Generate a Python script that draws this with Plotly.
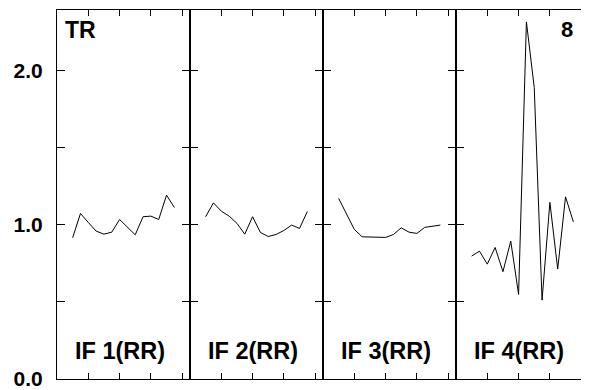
import plotly.graph_objects as go

x_idx = list(range(2, 16))
panel_labels = ["IF 1(RR)", "IF 2(RR)", "IF 3(RR)", "IF 4(RR)"]
if1 = [0.915, 1.072, 1.014, 0.958, 0.938, 0.951, 1.033, 0.986, 0.934, 1.051, 1.055, 1.033, 1.191, 1.111]
if2 = [1.051, 1.141, 1.087, 1.055, 1.008, 0.938, 1.051, 0.949, 0.923, 0.936, 0.962, 0.997, 0.975, 1.085]
if3 = [1.170, 1.066, 0.969, 0.921, 0.921, 0.921, 0.917, 0.936, 0.979, 0.951, 0.943, 0.982, 0.990, 0.997]
if4 = [0.796, 0.828, 0.744, 0.852, 0.695, 0.893, 0.548, 2.313, 1.888, 0.511, 1.144, 0.712, 1.180, 1.018]
series = [if1, if2, if3, if4]
y_tickvals = [0, 0.5, 1.0, 1.5, 2.0]
y_ticktext = ["0.0", "", "1.0", "", "2.0"]
x_tickvals = [4, 8, 12, 16]
corner_left = "TR"
corner_right = "8"

FONT = "Liberation Sans"
fig = go.Figure()
layout = {}
for i, ys in enumerate(series):
    n = "" if i == 0 else str(i + 1)
    fig.add_trace(go.Scatter(x=x_idx, y=ys, mode="lines",
                             line=dict(color="black", width=1),
                             xaxis="x" + n, yaxis="y" + n, showlegend=False,
                             hoverinfo="skip"))
    layout["xaxis" + n] = dict(domain=[i / 4, (i + 1) / 4], range=[0, 17],
                               showline=True, mirror="ticks", linecolor="black", linewidth=1,
                               ticks="inside", ticklen=6, tickwidth=1, tickcolor="black",
                               tickvals=x_tickvals, showticklabels=False,
                               showgrid=False, zeroline=False, fixedrange=True,
                               anchor="y" + n)
    layout["yaxis" + n] = dict(domain=[0, 1], range=[0, 2.39],
                               showline=True, mirror="ticks", linecolor="black", linewidth=1,
                               ticks="inside", ticklen=8, tickwidth=1, tickcolor="black",
                               tickvals=y_tickvals, ticktext=y_ticktext,
                               showticklabels=(i == 0), ticklabelstandoff=9,
                               ticklabeloverflow="allow",
                               tickfont=dict(family=FONT, size=21, color="black", weight="bold"),
                               showgrid=False, zeroline=False, fixedrange=True,
                               anchor="x" + n)

annotations = []
for i, lab in enumerate(panel_labels):
    n = "" if i == 0 else str(i + 1)
    annotations.append(dict(text=lab, x=2, xref="x" + n, xanchor="left",
                            y=0.0772, yref="paper", yanchor="middle", showarrow=False,
                            font=dict(family=FONT, size=23.5, color="black", weight="bold")))
annotations.append(dict(text=corner_left, x=0.0113, xref="paper", xanchor="left",
                        y=0.946, yref="paper", yanchor="middle", showarrow=False,
                        font=dict(family=FONT, size=23, color="black", weight="bold")))
annotations.append(dict(text=corner_right, x=0.9737, xref="paper", xanchor="right",
                        y=0.946, yref="paper", yanchor="middle", showarrow=False,
                        font=dict(family=FONT, size=22, color="black", weight="bold")))

fig.update_layout(**layout)
# page body adds an 8px margin, so the figure is sized and offset to fill the window
fig.update_layout(width=581, height=382, margin=dict(l=49, r=0, t=2, b=11),
                  paper_bgcolor="white", plot_bgcolor="white",
                  annotations=annotations)
fig.write_html("out.html")
